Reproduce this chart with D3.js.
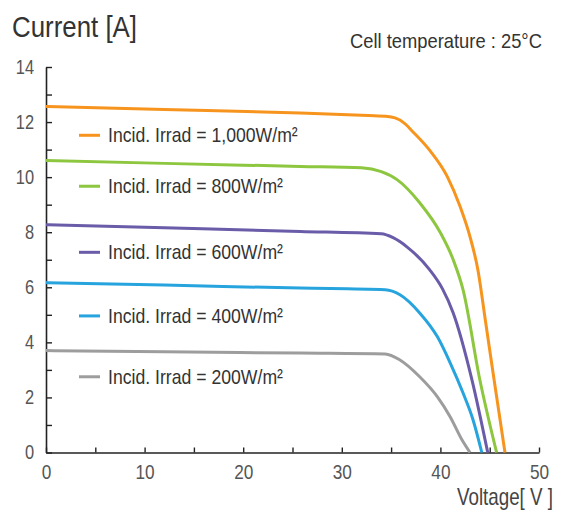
<!DOCTYPE html>
<html lang="en">
<head>
  <meta charset="utf-8">
  <title>I-V curves</title>
  <script src="https://cdn.jsdelivr.net/npm/d3@7"></script>
  <style>
    html, body { margin: 0; padding: 0; background: #fff; }
    text { font-family: "Liberation Sans", Arial, sans-serif; }
  </style>
</head>
<body>
<svg id="chart" width="566" height="516"></svg>
<script>

// irradiance levels, one curve each
var irradLabels = ["1,000", "800", "600", "400", "200"];
var lineColors = ["#f7941d", "#8dc63f", "#6a5ca8", "#27a4dd", "#9d9d9d"];

// [voltage, current] points
var curve1000 = [[0, 12.57], [12, 12.46], [25.8, 12.33], [32, 12.25], [34.4, 12.21], [35.4, 12.15], [36.3, 11.97],
                 [37.2, 11.65], [38.9, 10.98], [40.7, 10.02], [42.0, 8.93], [43.0, 7.84], [43.8, 6.64],
                 [44.6, 4.7], [45.4, 2.75], [46.55, 0]];
var curve800 = [[0, 10.6], [12, 10.5], [25.8, 10.39], [32.0, 10.34], [34.0, 10.2], [35.6, 9.91], [37.9, 9.07],
                [40.0, 7.98], [41.3, 7.0], [42.3, 5.91], [44.0, 2.64], [45.7, 0]];
var curve600 = [[0, 8.27], [12, 8.16], [25.8, 8.03], [34.0, 7.94], [35.2, 7.8], [36.6, 7.47], [38.9, 6.64],
                [40.2, 5.95], [41.3, 5.07], [43.2, 2.64], [44.8, 0]];
var curve400 = [[0, 6.17], [12, 6.08], [25.8, 5.97], [34.4, 5.91], [35.9, 5.73], [37.9, 5.07], [39.7, 4.2],
                [41.0, 3.25], [42.3, 2.16], [43.3, 1.2], [44.2, 0]];
var curve200 = [[0, 3.70], [12, 3.66], [25.8, 3.61], [34.4, 3.58], [35.9, 3.36], [37.9, 2.75], [39.7, 2.02],
                [41.0, 1.29], [42.2, 0.45], [43.0, 0]];

// current value where each legend entry sits
var labelAmps = [11.52, 9.67, 7.27, 4.96, 2.75];

var xTicks = d3.range(0, 51, 5);
var yTicks = d3.range(0, 15, 1);

var curves = [curve1000, curve800, curve600, curve400, curve200];

// the reference uses a condensed face; squeeze the installed one to match
function condense(sel, factor) {
  sel.each(function() {
    var w = this.getComputedTextLength();
    if (w > 0) {
      d3.select(this).attr("textLength", w * factor).attr("lengthAdjust", "spacingAndGlyphs");
    }
  });
}

// squeeze a label into a given width with a transform (keeps its box honest)
function fitText(g, x0, y0, width) {
  var t = g.select("text").node();
  var sx = width / t.getComputedTextLength();
  g.attr("transform", "translate(" + x0 + "," + y0 + ") scale(" + sx + ",1)");
}

/////////////////////
// scales
var svg = d3.select("#chart");

var x = d3.scaleLinear().domain([0, 50]).range([46, 539]);
var y = d3.scaleLinear().domain([0, 14]).range([452.5, 67]);

/////////////////////
// axes, ticks point inward
var xAxis = d3.axisBottom(x)
  .tickValues(xTicks)
  .tickSizeInner(-5).tickSizeOuter(0).tickPadding(12)
  .tickFormat(function(d) { return d % 10 ? "" : d; });

var yAxis = d3.axisLeft(y)
  .tickValues(yTicks)
  .tickSizeInner(-6).tickSizeOuter(0).tickPadding(12)
  .tickFormat(function(d) { return d % 2 ? "" : d; });

var gx = svg.append("g").attr("transform", "translate(0," + y(0) + ")").call(xAxis);
var gy = svg.append("g").attr("transform", "translate(" + x(0) + ",0)").call(yAxis);

[gx, gy].forEach(function(g) {
  g.select(".domain").attr("stroke", "#222").attr("stroke-width", 1.6);
  g.selectAll(".tick line").attr("stroke", "#222").attr("stroke-width", 1.4);
  g.selectAll(".tick text").attr("fill", "#555").attr("font-size", 20)
    .style("font-family", '"Liberation Sans", Arial, sans-serif');
});
gx.selectAll(".tick text").attr("font-size", 21);
condense(gx.selectAll(".tick text"), 0.82);
condense(gy.selectAll(".tick text"), 0.82);

/////////////////////
// curves
var line = d3.line()
  .x(function(d) { return x(d[0]); })
  .y(function(d) { return y(d[1]); })
  .curve(d3.curveMonotoneX);

svg.append("g").selectAll("path")
  .data(curves)
  .join("path")
    .attr("d", line)
    .attr("fill", "none")
    .attr("stroke", function(d, i) { return lineColors[i]; })
    .attr("stroke-width", 3)
    .attr("stroke-linejoin", "round");

/////////////////////
// legend entries under each curve
var legend = svg.append("g").selectAll("g")
  .data(irradLabels)
  .join("g")
    .attr("transform", function(d, i) { return "translate(0," + y(labelAmps[i]) + ")"; });

legend.append("line")
  .attr("x1", 79).attr("x2", 100)
  .attr("stroke", function(d, i) { return lineColors[i]; })
  .attr("stroke-width", 3);

var legendText = legend.append("text")
  .attr("x", 108).attr("y", 7)
  .attr("font-size", 21)
  .attr("fill", "#333")
  .text(function(d) { return "Incid. Irrad = " + d + "W/m²"; });
condense(legendText, 0.84);

/////////////////////
// titles
var titleG = svg.append("g");
titleG.append("text")
  .attr("font-size", 29).attr("fill", "#333")
  .text("Current [A]");
fitText(titleG, 12, 37, 125);

var tempG = svg.append("g");
tempG.append("text")
  .attr("font-size", 20).attr("fill", "#333")
  .text("Cell temperature : 25°C");
fitText(tempG, 350, 48, 192);

var voltG = svg.append("g");
voltG.append("text")
  .attr("font-size", 23).attr("fill", "#444")
  .text("Voltage[ V ]");
fitText(voltG, 457, 505, 96);

</script>
</body>
</html>
